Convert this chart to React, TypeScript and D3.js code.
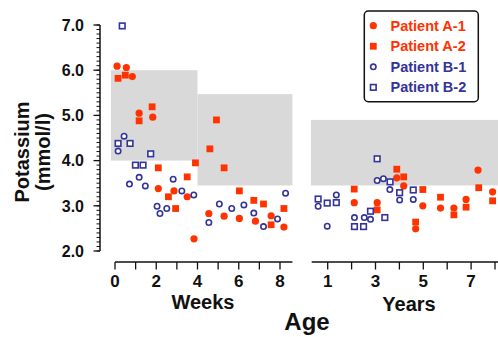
import React from "react";
import * as d3 from "d3";

// ---- Data ----
// Left panel (age in weeks)
const weeksA1: [number, number][] = [
  [0.1, 6.09], [0.55, 6.06], [0.84, 5.86], [1.17, 5.05], [1.83, 4.96], [2.1, 3.38], [2.86, 3.33],
  [3.5, 3.2], [3.83, 2.27], [4.55, 2.83], [5.29, 2.77], [6.03, 2.72], [6.81, 2.66], [7.57, 2.78], [8.19, 2.53],
];
const weeksA2: [number, number][] = [
  [0.15, 5.82], [0.5, 5.89], [1.17, 4.88], [1.8, 5.19], [2.1, 3.84], [2.59, 3.2], [2.94, 2.94], [3.5, 3.64],
  [3.9, 3.95], [4.6, 4.26], [4.92, 4.9], [5.29, 3.84], [6.03, 3.33], [6.73, 3.12], [7.2, 3.04], [7.57, 2.58], [8.19, 2.94],
];
const weeksB1: [number, number][] = [
  [0.15, 4.21], [0.44, 4.54], [0.7, 3.48], [1.17, 3.63], [1.47, 3.44], [2.04, 2.99], [2.18, 2.83], [2.51, 2.94],
  [2.82, 3.59], [3.24, 3.33], [3.82, 3.24], [4.55, 2.63], [5.06, 3.04], [5.66, 2.94], [6.25, 3.02], [6.73, 2.84],
  [7.2, 2.54], [7.88, 2.71], [8.27, 3.28],
];
const weeksB2: [number, number][] = [
  [0.35, 6.98], [0.15, 4.38], [0.73, 4.38], [0.99, 3.9], [1.36, 3.9], [1.73, 4.15],
];
// Right panel (age in years)
const yearsA1: [number, number][] = [
  [2.11, 3.07], [3.07, 3.07], [3.89, 3.62], [4.18, 3.44], [4.68, 2.49], [4.98, 3.0], [5.72, 2.95], [6.28, 2.95],
  [6.79, 3.14], [7.29, 3.79], [7.9, 3.31],
];
const yearsA2: [number, number][] = [
  [2.11, 3.37], [3.07, 2.91], [3.89, 3.81], [4.18, 3.64], [4.68, 2.64], [4.98, 3.36], [5.72, 3.19], [6.28, 2.8],
  [6.79, 2.97], [7.32, 3.4], [7.9, 3.11],
];
const yearsB1: [number, number][] = [
  [0.6, 2.99], [0.98, 2.55], [1.36, 3.24], [2.12, 2.74], [2.53, 2.74], [2.79, 2.7], [3.07, 3.56], [3.33, 3.6],
  [3.6, 3.36], [4.01, 3.13], [4.58, 3.14],
];
const yearsB2: [number, number][] = [
  [0.6, 3.15], [0.98, 3.06], [1.36, 3.07], [2.12, 2.54], [2.5, 2.54], [2.79, 2.88], [3.07, 4.04], [3.39, 2.74],
  [3.61, 3.53], [4.01, 3.29], [4.58, 3.35],
];
// Reference ranges (shaded) : [x0, x1, yLow, yHigh]
const weeksRanges: [number, number, number, number][] = [
  [-0.2, 4, 4.0, 6.0],
  [4, 8.6, 3.45, 5.47],
];
const yearsRanges: [number, number, number, number][] = [[0.3, 8.2, 3.45, 4.9]];

const yTickValues = [2, 3, 4, 5, 6, 7];
const weekTicks = [0, 1, 2, 3, 4, 5, 6, 7, 8];
const weekLabels = [0, 2, 4, 6, 8];
const yearTicks = [1, 2, 3, 4, 5, 6, 7, 8];
const yearLabels = [1, 3, 5, 7];
const legendLabels = ["Patient A-1", "Patient A-2", "Patient B-1", "Patient B-2"];

const RED = "#ff3300";
const BLUE = "#333399";
const FONT = "'Liberation Sans', Arial, Helvetica, sans-serif";

type Kind = "fcircle" | "fsquare" | "ocircle" | "osquare";
const kinds: Kind[] = ["fcircle", "fsquare", "ocircle", "osquare"];

function Marker({ kind, x, y }: { kind: Kind; x: number; y: number }) {
  if (kind === "fcircle") return <circle cx={x} cy={y} r={3.6} fill={RED} />;
  if (kind === "fsquare") return <rect x={x - 3.4} y={y - 3.4} width={6.8} height={6.8} fill={RED} />;
  if (kind === "ocircle") return <circle cx={x} cy={y} r={2.7} fill="white" stroke={BLUE} strokeWidth={1.6} />;
  return <rect x={x - 2.8} y={y - 2.8} width={5.6} height={5.6} fill="white" stroke={BLUE} strokeWidth={1.6} />;
}

export default function App() {
  const y = d3.scaleLinear().domain([2, 7]).range([251, 25]);
  const xw = d3.scaleLinear().domain([0, 8]).range([115, 280]);
  const xy = d3.scaleLinear().domain([1, 8]).range([327.7, 495]);
  const minor = d3.range(20, 71).map((v) => v / 10);

  const weekSeries = [weeksA1, weeksA2, weeksB1, weeksB2];
  const yearSeries = [yearsA1, yearsA2, yearsB1, yearsB2];
  const axisColor = "#111";

  return (
    <svg width={498} height={337} style={{ position: "absolute", left: 0, top: 0, background: "white" }} fontFamily={FONT}>
      {/* shaded ranges */}
      {weeksRanges.map((r, i) => (
        <rect key={"wr" + i} x={xw(r[0])} width={xw(r[1]) - xw(r[0])} y={y(r[3])} height={y(r[2]) - y(r[3])} fill="#d9d9d9" />
      ))}
      {yearsRanges.map((r, i) => (
        <rect key={"yr" + i} x={xy(r[0])} width={xy(r[1]) - xy(r[0])} y={y(r[3])} height={y(r[2]) - y(r[3])} fill="#d9d9d9" />
      ))}

      {/* y axis */}
      <line x1={100} x2={100} y1={y(2)} y2={y(7)} stroke={axisColor} strokeWidth={1.5} />
      {minor.map((v) => (
        <line key={"m" + v} x1={100} x2={96.5} y1={y(v)} y2={y(v)} stroke={axisColor} strokeWidth={1} />
      ))}
      {yTickValues.map((v) => (
        <g key={"yt" + v}>
          <line x1={100} x2={93.5} y1={y(v)} y2={y(v)} stroke={axisColor} strokeWidth={1.3} />
          <text x={84} y={y(v) + 5.8} textAnchor="end" fontSize={16} fontWeight="bold" fill="#111">
            {v.toFixed(1)}
          </text>
        </g>
      ))}
      <text transform={`translate(29,152) rotate(-90)`} textAnchor="middle" fontSize={20} fontWeight="bold" fill="#111">
        Potassium
      </text>
      <text transform={`translate(50,152) rotate(-90)`} textAnchor="middle" fontSize={20} fontWeight="bold" fill="#111">
        (mmol/l)
      </text>

      {/* weeks axis */}
      <line x1={xw(0)} x2={xw(8.6)} y1={262} y2={262} stroke={axisColor} strokeWidth={1.5} />
      {weekTicks.map((t) => (
        <line key={"wt" + t} x1={xw(t)} x2={xw(t)} y1={262} y2={269.5} stroke={axisColor} strokeWidth={1.3} />
      ))}
      {weekLabels.map((t) => (
        <text key={"wl" + t} x={xw(t)} y={287} textAnchor="middle" fontSize={17} fontWeight="bold" fill="#111">
          {t}
        </text>
      ))}
      <text x={203} y={309} textAnchor="middle" fontSize={20} fontWeight="bold" fill="#111">Weeks</text>

      {/* years axis */}
      <line x1={xy(0.33)} x2={xy(8.2)} y1={262} y2={262} stroke={axisColor} strokeWidth={1.5} />
      {yearTicks.map((t) => (
        <line key={"yt2" + t} x1={xy(t)} x2={xy(t)} y1={262} y2={269.5} stroke={axisColor} strokeWidth={1.3} />
      ))}
      {yearLabels.map((t) => (
        <text key={"yl" + t} x={xy(t)} y={287} textAnchor="middle" fontSize={17} fontWeight="bold" fill="#111">
          {t}
        </text>
      ))}
      <text x={409} y={311} textAnchor="middle" fontSize={20} fontWeight="bold" fill="#111">Years</text>

      <text x={307} y={330} textAnchor="middle" fontSize={24} fontWeight="bold" fill="#111">Age</text>

      {/* points */}
      {weekSeries.map((s, si) =>
        s.map((d, i) => <Marker key={`w${si}-${i}`} kind={kinds[si]} x={xw(d[0])} y={y(d[1])} />)
      )}
      {yearSeries.map((s, si) =>
        s.map((d, i) => <Marker key={`y${si}-${i}`} kind={kinds[si]} x={xy(d[0])} y={y(d[1])} />)
      )}

      {/* legend */}
      <rect x={364.3} y={11} width={114} height={90.7} rx={4} fill="white" stroke="#111" strokeWidth={1.5} />
      {legendLabels.map((l, i) => {
        const cy = 25.7 + i * 20.55;
        return (
          <g key={"lg" + i}>
            <Marker kind={kinds[i]} x={373.3} y={cy} />
            <text x={390.5} y={cy + 5} fontSize={14.5} fontWeight="bold" fill={i < 2 ? RED : BLUE}>
              {l}
            </text>
          </g>
        );
      })}
    </svg>
  );
}
